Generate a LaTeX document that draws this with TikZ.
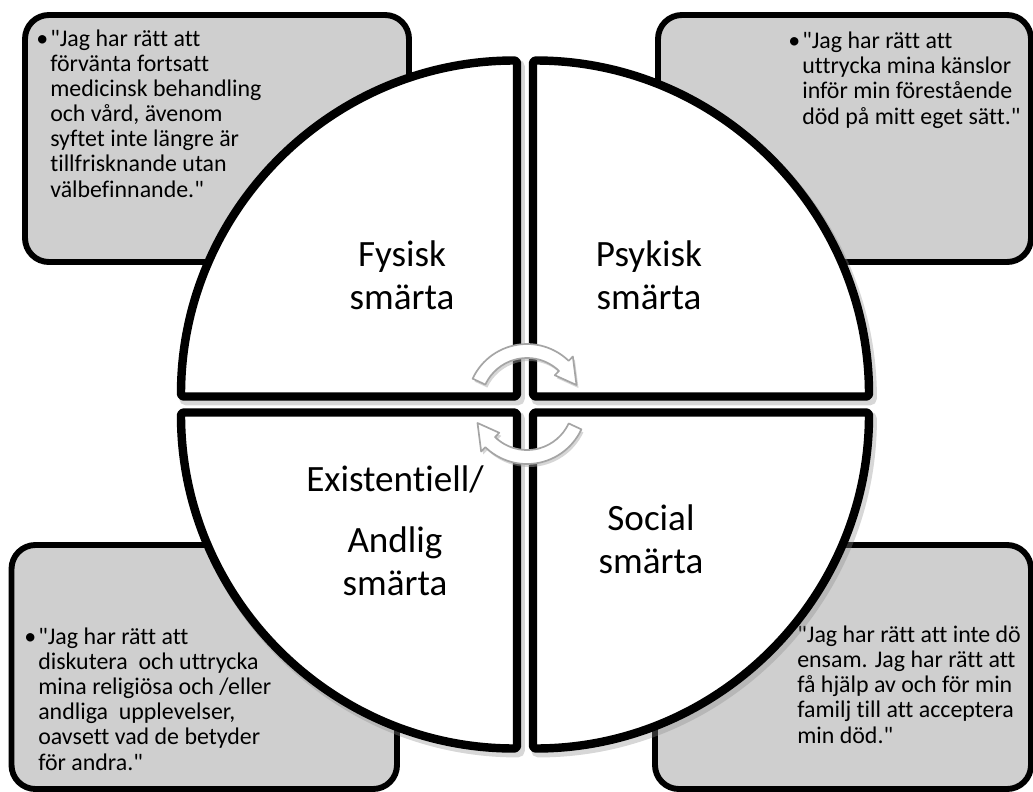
\documentclass[tikz,border=0pt]{standalone}
\usepackage{fontspec}
\setmainfont{Carlito}[Ligatures={TeXOff,NoCommon}]
\usetikzlibrary{positioning}

\definecolor{boxgray}{RGB}{207,207,207}
\definecolor{rimgray}{RGB}{165,165,165}

\begin{document}
\begin{tikzpicture}[
  x=0.025cm,y=0.025cm,
  box/.style={draw=black,fill=boxgray,line width=4.2pt,rounded corners=17pt},
  quarter/.style={draw=black,fill=white,line width=6pt,line join=round,rounded corners=2pt},
  qshadow/.style={draw=black!45,line width=7pt,opacity=0.35,rounded corners=2pt},
  claim/.style={align=left,anchor=base west,inner sep=0pt,font=\fontsize{17}{17.8}\selectfont},
  painlabel/.style={align=center,anchor=base,inner sep=0pt,font=\fontsize{26.4}{29.9}\selectfont},
  turn/.style={fill=white,draw=rimgray,line width=1.2pt,line join=round},
  turnshadow/.style={fill=black!35,opacity=0.45}
]
\useasboundingbox (0,0) rectangle (1033,-791);

% grey boxes behind the circle
\draw[box] (25,-15) rectangle (409,-262);
\draw[box] (658,-15) rectangle (1031,-262);
\draw[box] (11.5,-545) rectangle (397,-789);
\draw[box] (655,-545) rectangle (1031,-789);

% texts sit on the baseline of their last line
\node[claim] (fysiskclaim) at (50,-197)
  {\llap{•\hspace{1.5pt}}"Jag har rätt att\\förvänta fortsatt\\medicinsk behandling\\och vård, ävenom\\syftet inte längre är\\tillfrisknande utan\\välbefinnande."};
\node[claim] (psykiskclaim) at (802,-124)
  {\llap{•\hspace{1.5pt}}"Jag har rätt att\\uttrycka mina känslor\\inför min förestående\\död på mitt eget sätt."};
\node[claim] (andligclaim) at (38,-770)
  {\llap{•\hspace{1.5pt}}"Jag har rätt att\\diskutera \ och uttrycka\\mina religiösa och /eller\\andliga \ upplevelser,\\oavsett vad de betyder\\för andra."};
\node[claim] (socialclaim) at (797,-743)
  {"Jag har rätt att inte dö\\ensam. Jag har rätt att\\få hjälp av och för min\\familj till att acceptera\\min död."};

% circle in four quarters
\foreach \cx/\cy/\a in {517/-396.5/180,533/-396.5/90,533/-412.5/0,517/-412.5/270}
  \draw[qshadow] ([shift={(3,-4)}]\cx,\cy) -- ++(\a:336)
    arc[start angle=\a,end angle=\a-90,radius=336] -- cycle;
\foreach \cx/\cy/\a in {517/-396.5/180,533/-396.5/90,533/-412.5/0,517/-412.5/270}
  \draw[quarter] (\cx,\cy) -- ++(\a:336)
    arc[start angle=\a,end angle=\a-90,radius=336] -- cycle;

\node[painlabel] (fysisk) at (402,-309) {Fysisk\\smärta};
\node[painlabel] (psykisk) at (649,-309) {Psykisk\\smärta};
\node[painlabel] (andlig) at (395,-595) {Existentiell/\\[13.5pt]Andlig\\smärta};
\node[painlabel] (social) at (651,-573) {Social\\smärta};

% turning arrows in the middle
\begin{scope}[shift={(527,-404)}]
  \foreach \r in {0,180}{
    \fill[turnshadow,shift={(2,-3)},rotate=\r] (155:46) -- (155:60)
      arc[start angle=155,end angle=46,radius=60] -- (46:66) -- (21:53)
      -- (46:40) -- (46:46) arc[start angle=46,end angle=155,radius=46] -- cycle;
    \filldraw[turn,rotate=\r] (155:46) -- (155:60)
      arc[start angle=155,end angle=46,radius=60] -- (46:66) -- (21:53)
      -- (46:40) -- (46:46) arc[start angle=46,end angle=155,radius=46] -- cycle;
  }
\end{scope}
\end{tikzpicture}
\end{document}
